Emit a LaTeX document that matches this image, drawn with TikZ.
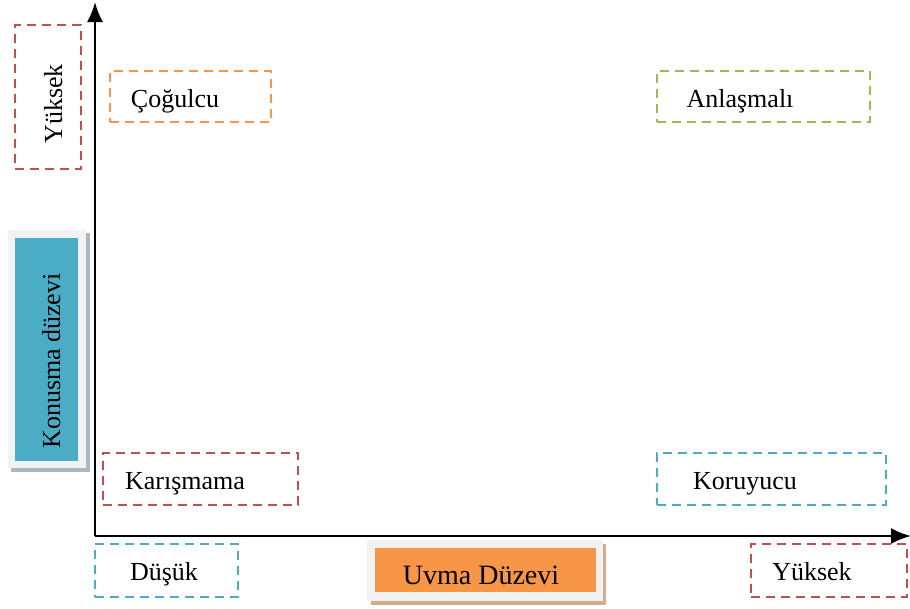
\documentclass[tikz,border=0pt]{standalone}
\usepackage{fontspec}
\setmainfont{Liberation Serif}
\usetikzlibrary{arrows.meta}
\definecolor{cred}{HTML}{C0504D}
\definecolor{corange}{HTML}{F79646}
\definecolor{cgreen}{HTML}{9BBB59}
\definecolor{ccyan}{HTML}{4BACC6}
\definecolor{cframe}{HTML}{F2F2F2}
\definecolor{cshadowb}{HTML}{A9B8C2}
\definecolor{cshadowo}{HTML}{CDAE8E}
\begin{document}
\begin{tikzpicture}[x=1pt,y=-1pt,
  dbox/.style={draw, dash pattern=on 9pt off 6pt, line width=2.8pt, rectangle, inner sep=0pt, outer sep=0pt},
  lbl/.style={font=\fontsize{26}{30}\selectfont, anchor=base, inner sep=0pt},
  axis/.style={line width=2.4pt, -{Latex[length=20pt,width=16pt]}},
]
\useasboundingbox (0,0) rectangle (910,608);
% axes
\coordinate (o) at (95,536);
\coordinate (ytop) at (95,2);
\coordinate (xend) at (911,536);
\draw[axis] (o) -- (ytop);
\draw[axis] (o) -- (xend);

% Konusma duzevi label (vertical)
\fill[cshadowb] (11,233) rectangle (90,472);
\fill[cframe] (8,230) rectangle (86,468);
\fill[ccyan] (15,238) rectangle (78,461);
\node[lbl, rotate=90] (konusma) at (60,361) {Konusma düzevi};

% Uvma Duzevi label
\fill[cshadowo] (371,544) rectangle (606,605);
\fill[cframe] (367,540) rectangle (603,601);
\fill[corange] (375,548) rectangle (596,592);
\node[lbl, font=\fontsize{28}{32}\selectfont] (uvma) at (481,584) {Uvma Düzevi};

% left Yuksek
\node[dbox, draw=cred, minimum width=66pt, minimum height=144pt] (ylbox) at (48,97) {};
\node[lbl, rotate=90] (yl) at (62,104) {Yüksek};

% Cogulcu
\node[dbox, draw=corange, minimum width=161pt, minimum height=51pt] (cogbox) at (190.5,96.5) {};
\node[lbl] (cog) at (175,107) {Çoğulcu};

% Anlasmali
\node[dbox, draw=cgreen, minimum width=213pt, minimum height=51pt] (anlbox) at (763.5,96.5) {};
\node[lbl] (anl) at (740,107) {Anlaşmalı};

% Karismama
\node[dbox, draw=cred, minimum width=195pt, minimum height=52pt] (karbox) at (200.5,479) {};
\node[lbl] (kar) at (185,489) {Karışmama};

% Koruyucu
\node[dbox, draw=ccyan, minimum width=229pt, minimum height=52pt] (korbox) at (771.5,479) {};
\node[lbl] (kor) at (745,489) {Koruyucu};

% Dusuk
\node[dbox, draw=ccyan, minimum width=143pt, minimum height=53pt] (dusbox) at (166.5,570.5) {};
\node[lbl] (dus) at (164,580) {Düşük};

% Yuksek bottom right
\node[dbox, draw=cred, minimum width=156pt, minimum height=53pt] (ybbox) at (829,570.5) {};
\node[lbl] (yb) at (812,580) {Yüksek};
\end{tikzpicture}
\end{document}
